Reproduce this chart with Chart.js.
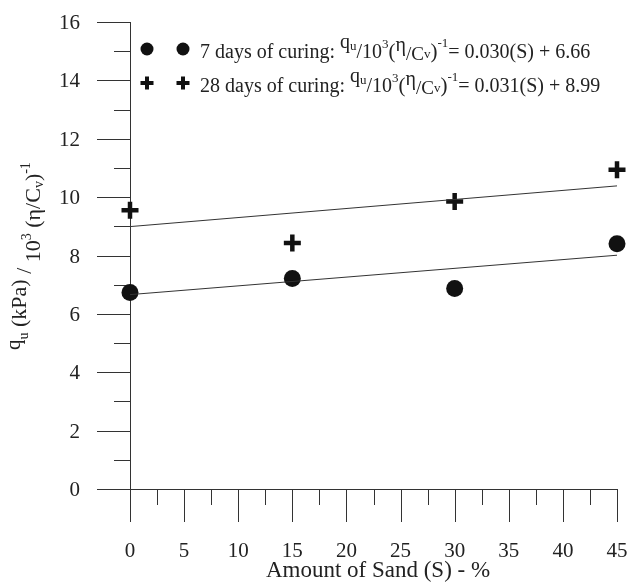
<!DOCTYPE html>
<html>
<head>
<meta charset="utf-8">
<script src="https://cdn.jsdelivr.net/npm/chart.js@4/dist/chart.umd.min.js"></script>
<style>
  html, body { margin: 0; padding: 0; background: #fff; }
  canvas { display: block; }
</style>
</head>
<body>
<canvas id="c" width="631" height="586"></canvas>
<script>
// Sand content (%) tested
const sandContent = [0, 15, 30, 45];
// Normalised strength q_u / 10^3 (eta/Cv)^-1
const strength7d = [6.73, 7.21, 6.87, 8.40];
const strength28d = [9.55, 8.43, 9.85, 10.94];
// Linear fits: q = slope * S + intercept
const fit7d = [0.030, 6.66];
const fit28d = [0.031, 8.99];
const fitRange = [0, 45];
// Axis ticks
const xTickValues = [0, 5, 10, 15, 20, 25, 30, 35, 40, 45];
const yTickValues = [0, 2, 4, 6, 8, 10, 12, 14, 16];

const SERIF = '"Liberation Serif", "DejaVu Serif", serif';
const INK = '#111';
const AXIS = '#333';
const TEXT = '#222';

function fitLine(fit) {
  return fitRange.map(s => ({ x: s, y: fit[0] * s + fit[1] }));
}
function points(ys) {
  return sandContent.map((s, i) => ({ x: s, y: ys[i] }));
}

// Draw a run of text pieces: [text, size, baselineShift]
function richText(ctx, pieces, x, y) {
  let cx = x;
  for (const [t, size, dy] of pieces) {
    ctx.font = size + 'px ' + SERIF;
    ctx.fillText(t, cx, y + dy);
    cx += ctx.measureText(t).width;
  }
  return cx;
}

function eqPieces(prefix, slope, intercept) {
  return [
    [prefix, 20, 0],
    ['q', 20, -10],
    ['u', 13, -8],
    ['/10', 20, 0],
    ['3', 13, -10],
    ['(', 21, 0],
    ['\u03B7', 20, -7],
    ['/C', 19, 2],
    ['v', 13, 0],
    [')', 21, 0],
    ['-1', 13, -11],
    ['= ' + slope.toFixed(3) + '(S) + ' + intercept.toFixed(2), 20, 0]
  ];
}

function drawCircle(ctx, x, y, r) {
  ctx.beginPath();
  ctx.arc(x, y, r, 0, Math.PI * 2);
  ctx.fill();
}
function drawPlus(ctx, x, y, r, w) {
  ctx.fillRect(x - r, y - w / 2, 2 * r, w);
  ctx.fillRect(x - w / 2, y - r, w, 2 * r);
}

const axesPlugin = {
  id: 'frameAxes',
  beforeDatasetsDraw(chart) {
    const { ctx } = chart;
    const xs = chart.scales.x, ys = chart.scales.y;
    const x0 = xs.getPixelForValue(0), x45 = xs.getPixelForValue(45);
    const y0 = ys.getPixelForValue(0), y16 = ys.getPixelForValue(16);
    const major = 33, minor = 16;
    ctx.save();
    ctx.strokeStyle = AXIS;
    ctx.lineWidth = 1;
    ctx.beginPath();
    // axis lines
    ctx.moveTo(Math.round(x0) + 0.5, y16);
    ctx.lineTo(Math.round(x0) + 0.5, y0);
    ctx.moveTo(x0, Math.round(y0) + 0.5);
    ctx.lineTo(x45, Math.round(y0) + 0.5);
    // y ticks: majors on even values, minors between
    for (let v = 0; v <= 16; v += 1) {
      const py = Math.round(ys.getPixelForValue(v)) + 0.5;
      const len = v % 2 === 0 ? major : minor;
      ctx.moveTo(x0 - len, py);
      ctx.lineTo(x0, py);
    }
    // x ticks: majors every 5, minors halfway
    for (let v = 0; v <= 45; v += 2.5) {
      const px = Math.round(xs.getPixelForValue(v)) + 0.5;
      const len = v % 5 === 0 ? major : minor;
      ctx.moveTo(px, y0);
      ctx.lineTo(px, y0 + len);
    }
    ctx.stroke();

    // tick labels
    ctx.fillStyle = TEXT;
    ctx.font = '21px ' + SERIF;
    ctx.textBaseline = 'alphabetic';
    ctx.textAlign = 'right';
    for (const v of yTickValues) {
      ctx.fillText(String(v), x0 - 50, ys.getPixelForValue(v) + 7);
    }
    ctx.textAlign = 'center';
    for (const v of xTickValues) {
      ctx.fillText(String(v), xs.getPixelForValue(v), y0 + 68);
    }
    ctx.restore();
  },
  afterDraw(chart) {
    const { ctx } = chart;
    ctx.save();
    ctx.fillStyle = INK;
    ctx.textBaseline = 'alphabetic';
    ctx.textAlign = 'left';

    // legend
    drawCircle(ctx, 147, 49, 6.5);
    drawCircle(ctx, 183, 49, 6.5);
    drawPlus(ctx, 147, 83, 6.5, 4);
    drawPlus(ctx, 183, 83, 6.5, 4);
    ctx.fillStyle = TEXT;
    richText(ctx, eqPieces('7 days of curing: ', fit7d[0], fit7d[1]), 200, 58);
    richText(ctx, eqPieces('28 days of curing: ', fit28d[0], fit28d[1]), 200, 92);

    // x axis title
    ctx.font = '23px ' + SERIF;
    ctx.textAlign = 'center';
    ctx.fillText('Amount of Sand (S) - %', 378, 577);

    // y axis title (rotated)
    ctx.textAlign = 'left';
    ctx.save();
    ctx.translate(26, 350);
    ctx.rotate(-Math.PI / 2);
    let u = richText(ctx, [['q', 21, -6], ['u', 14, 2], [' (kPa) ', 22, 0]], 0, 0);
    u = richText(ctx, [['/', 22, 5]], u, 0);
    richText(ctx, [[' 10', 22, 14], ['3', 14, 5], [' (\u03B7/C', 22, 14], ['v', 14, 17], [')', 22, 14], ['-1', 14, 4]], u, 0);
    ctx.restore();
    ctx.restore();
  }
};

new Chart(document.getElementById('c'), {
  type: 'scatter',
  data: {
    datasets: [
      {
        label: '7 days fit',
        type: 'line',
        data: fitLine(fit7d),
        borderColor: '#333',
        borderWidth: 1,
        pointRadius: 0,
        fill: false
      },
      {
        label: '28 days fit',
        type: 'line',
        data: fitLine(fit28d),
        borderColor: '#333',
        borderWidth: 1,
        pointRadius: 0,
        fill: false
      },
      {
        label: '7 days of curing',
        data: points(strength7d),
        pointStyle: 'circle',
        pointRadius: 8.5,
        backgroundColor: INK,
        borderColor: INK,
        borderWidth: 0,
        clip: false
      },
      {
        label: '28 days of curing',
        data: points(strength28d),
        pointStyle: 'cross',
        pointRadius: 8.5,
        borderColor: INK,
        borderWidth: 4.5,
        clip: false
      }
    ]
  },
  options: {
    responsive: false,
    animation: false,
    events: [],
    layout: { padding: { top: 22, right: 14, left: 0, bottom: 0 } },
    plugins: { legend: { display: false }, tooltip: { enabled: false } },
    scales: {
      x: {
        type: 'linear',
        min: 0,
        max: 45,
        afterFit(scale) { scale.height = 97; },
        grid: { display: false, drawTicks: false },
        border: { display: false },
        ticks: { display: false }
      },
      y: {
        type: 'linear',
        min: 0,
        max: 16,
        afterFit(scale) { scale.width = 130; },
        grid: { display: false, drawTicks: false },
        border: { display: false },
        ticks: { display: false }
      }
    }
  },
  plugins: [axesPlugin]
});
</script>
</body>
</html>
